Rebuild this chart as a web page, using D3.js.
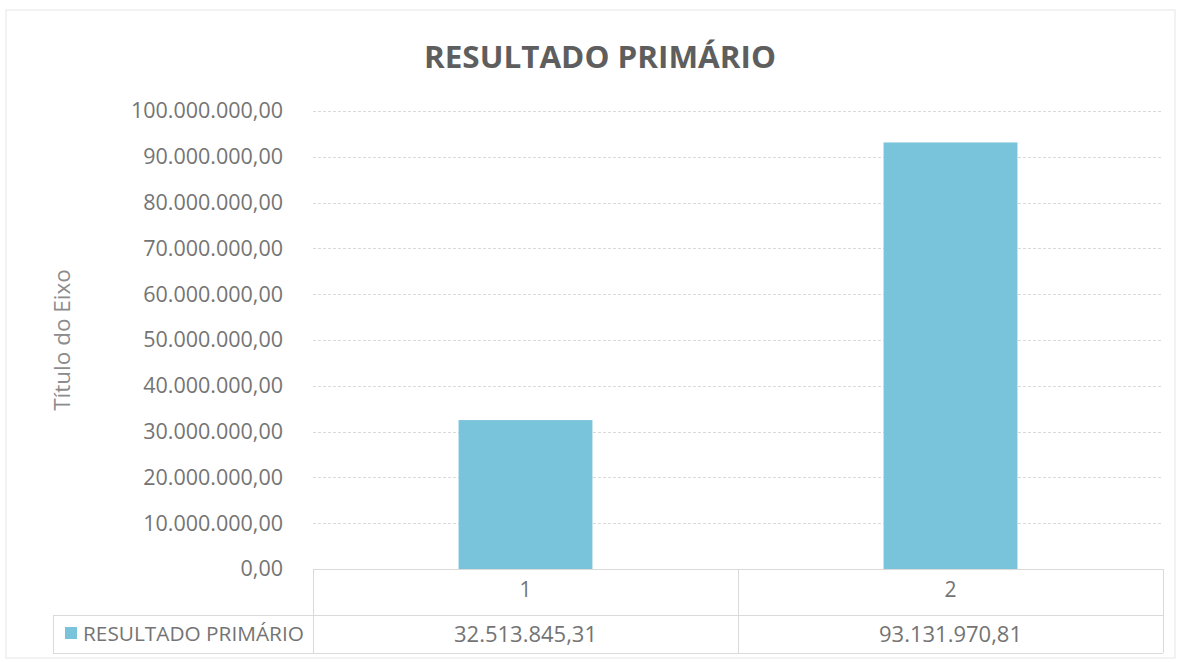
<!DOCTYPE html>
<html>
<head>
<meta charset="utf-8">
<script src="https://cdn.jsdelivr.net/npm/d3@7"></script>
<style>
  html, body { margin: 0; padding: 0; background: #fff; }
  svg { display: block; }
  text { font-family: "Open Sans", "DejaVu Sans", sans-serif; }
</style>
</head>
<body>
<svg id="chart" width="1181" height="662"></svg>
<script>
const chartTitle = "RESULTADO PRIMÁRIO";
const axisTitle = "Título do Eixo";
const seriesName = "RESULTADO PRIMÁRIO";
const categories = ["1", "2"];
const values = [32513845.31, 93131970.81];
const yTicks = [0, 10000000, 20000000, 30000000, 40000000, 50000000, 60000000, 70000000, 80000000, 90000000, 100000000];

const W = 1181, H = 662;
const margin = { left: 313, right: 18, top: 111, bottom: 93 };
const plotW = W - margin.left - margin.right;
const plotH = H - margin.top - margin.bottom;
const barColor = "#7ac4db";
const gridColor = "#dadada";
const textColor = "#747474";

const ptFormat = d3.formatLocale({ decimal: ",", thousands: ".", grouping: [3], currency: ["", ""] }).format(",.2f");

const svg = d3.select("#chart");

// outer chart border
svg.append("rect").attr("x", 6).attr("y", 10).attr("width", W - 12).attr("height", H - 14)
  .attr("fill", "none").attr("stroke", "#e6e6e6").attr("stroke-width", 1);

const g = svg.append("g").attr("transform", `translate(${margin.left},${margin.top})`);

const x = d3.scaleBand().domain(categories).range([0, plotW]).paddingInner(0).paddingOuter(0);
const y = d3.scaleLinear().domain([0, 100000000]).range([plotH, 0]);
const barW = x.step() * 0.315;

// gridlines
g.append("g").selectAll("line").data(yTicks.filter(d => d > 0)).join("line")
  .attr("x1", 0).attr("x2", plotW)
  .attr("y1", d => Math.round(y(d)) + 0.5).attr("y2", d => Math.round(y(d)) + 0.5)
  .attr("stroke", gridColor).attr("stroke-width", 1).attr("stroke-dasharray", "3,2");

// y axis labels
const yAxis = d3.axisLeft(y).tickValues(yTicks).tickFormat(ptFormat).tickSize(0).tickPadding(30);
const ya = g.append("g").call(yAxis);
ya.select(".domain").remove();
ya.selectAll("text").attr("fill", textColor).attr("font-size", 21.5).attr("font-family", "Open Sans");

// bars
g.append("g").selectAll("rect").data(values).join("rect")
  .attr("x", (d, i) => x(categories[i]) + x.bandwidth() / 2 - barW / 2)
  .attr("width", barW)
  .attr("y", d => y(d))
  .attr("height", d => plotH - y(d))
  .attr("fill", barColor);

// data table
const tableTop = plotH;          // 569
const rowSplit = plotH + 46;     // ~615
const tableBottom = plotH + 84;  // ~653
const legendLeft = 53 - margin.left;
const t = g.append("g").attr("stroke", gridColor).attr("stroke-width", 1);
t.append("line").attr("x1", 0).attr("x2", plotW).attr("y1", tableTop + 0.5).attr("y2", tableTop + 0.5);
t.append("line").attr("x1", legendLeft).attr("x2", plotW).attr("y1", rowSplit + 0.5).attr("y2", rowSplit + 0.5);
t.append("line").attr("x1", legendLeft).attr("x2", plotW).attr("y1", tableBottom + 0.5).attr("y2", tableBottom + 0.5);
t.append("line").attr("x1", legendLeft + 0.5).attr("x2", legendLeft + 0.5).attr("y1", rowSplit).attr("y2", tableBottom);
t.selectAll("line.v").data(d3.range(categories.length + 1)).join("line").attr("class", "v")
  .attr("x1", i => Math.round(i * x.step()) + 0.5).attr("x2", i => Math.round(i * x.step()) + 0.5)
  .attr("y1", tableTop).attr("y2", tableBottom);

// x category labels
const xAxis = d3.axisBottom(x).tickSize(0).tickPadding(13);
const xa = g.append("g").attr("transform", `translate(0,${plotH})`).call(xAxis);
xa.select(".domain").remove();
xa.selectAll("text").attr("fill", textColor).attr("font-size", 21).attr("font-family", "Open Sans");

// values row
g.append("g").selectAll("text").data(values).join("text")
  .attr("x", (d, i) => x(categories[i]) + x.bandwidth() / 2)
  .attr("y", (rowSplit + tableBottom) / 2)
  .attr("dy", "0.35em")
  .attr("text-anchor", "middle")
  .attr("fill", textColor).attr("font-size", 22)
  .text(d => ptFormat(d));

// legend key in table
const lg = svg.append("g");
lg.append("rect").attr("x", 65).attr("y", 627).attr("width", 12).attr("height", 12).attr("fill", barColor);
lg.append("text").attr("x", 83).attr("y", 634).attr("dy", "0.35em")
  .attr("fill", textColor).attr("font-size", 20.8).text(seriesName);

// title
svg.append("text").attr("x", 600).attr("y", 57).attr("dy", "0.35em")
  .attr("text-anchor", "middle").attr("font-size", 30).attr("font-weight", "bold")
  .attr("fill", "#5e5e5e").attr("textLength", 352).attr("lengthAdjust", "spacingAndGlyphs")
  .text(chartTitle);

// y axis title
svg.append("text").attr("transform", "translate(62,340) rotate(-90)")
  .attr("text-anchor", "middle").attr("dy", "0.35em")
  .attr("font-size", 22.5).attr("fill", "#8c8c8c").text(axisTitle);
</script>
</body>
</html>
